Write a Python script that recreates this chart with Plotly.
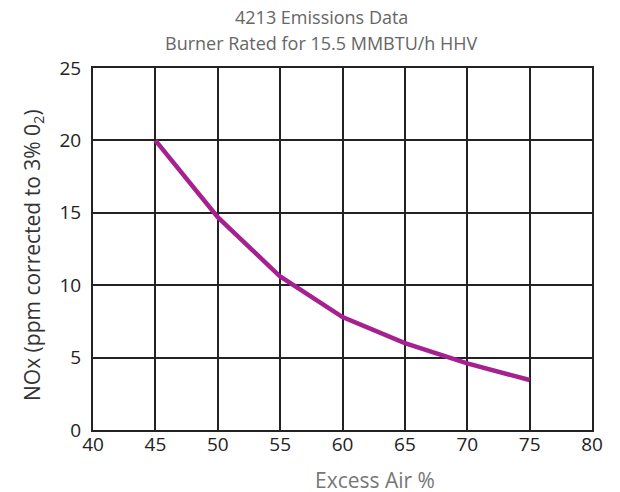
import plotly.graph_objects as go

excess_air = [45, 50, 55, 60, 65, 70, 75]
nox = [20.0, 14.7, 10.6, 7.8, 6.0, 4.6, 3.45]

x_ticks = [40, 45, 50, 55, 60, 65, 70, 75, 80]
y_ticks = [0, 5, 10, 15, 20, 25]

title_lines = ["4213 Emissions Data", "Burner Rated for 15.5 MMBTU/h HHV"]
x_title = "Excess Air %"
y_title = "NOx (ppm corrected to 3% 0<sub>2</sub>)"

FONT = "Open Sans"
OFF = 8  # default page body margin
W, H = 620 - OFF, 492 - OFF
L, R, T, B = 93 - OFF, 28, 68 - OFF, 62

fig = go.Figure()
fig.add_trace(go.Scatter(
    x=excess_air, y=nox, mode="lines",
    line=dict(color="#A6218F", width=4.5),
    showlegend=False,
))

annots = [
    dict(text=title_lines[0], x=321, y=17, font=dict(size=18, color="#666")),
    dict(text=title_lines[1], x=321, y=43, font=dict(size=18, color="#666")),
    dict(text=x_title, x=375, y=480, font=dict(size=21, color="#777")),
    dict(text=y_title, x=33, y=255, font=dict(size=21, color="#333"), textangle=-90),
]
pw, ph = W - L - R, H - T - B
for a in annots:
    a.update(xref="paper", yref="paper", showarrow=False,
             xanchor="center", yanchor="middle")
    a["x"] = (a["x"] - OFF - L) / pw
    a["y"] = (H - B - (a["y"] - OFF)) / ph

fig.update_layout(
    width=W, height=H,
    margin=dict(l=L, r=R, t=T, b=B, autoexpand=False),
    paper_bgcolor="white", plot_bgcolor="white",
    font=dict(family=FONT, size=18, color="#222"),
    annotations=annots,
    xaxis=dict(
        range=[40, 80], tickvals=x_ticks, ticktext=[str(v) for v in x_ticks],
        showgrid=True, gridcolor="#222", gridwidth=2,
        showline=True, linecolor="#222", linewidth=2, mirror=True,
        zeroline=False, ticks="", ticklen=0, automargin=False,
        tickfont=dict(size=19, color="#222"), ticklabelstandoff=-4,
    ),
    yaxis=dict(
        range=[0, 25], tickvals=y_ticks, ticktext=[str(v) for v in y_ticks],
        showgrid=True, gridcolor="#222", gridwidth=2,
        showline=True, linecolor="#222", linewidth=2, mirror=True,
        zeroline=False, ticks="", ticklen=0, automargin=False,
        tickfont=dict(size=19, color="#222"), ticklabelstandoff=6,
    ),
)

fig.write_html("out.html")
